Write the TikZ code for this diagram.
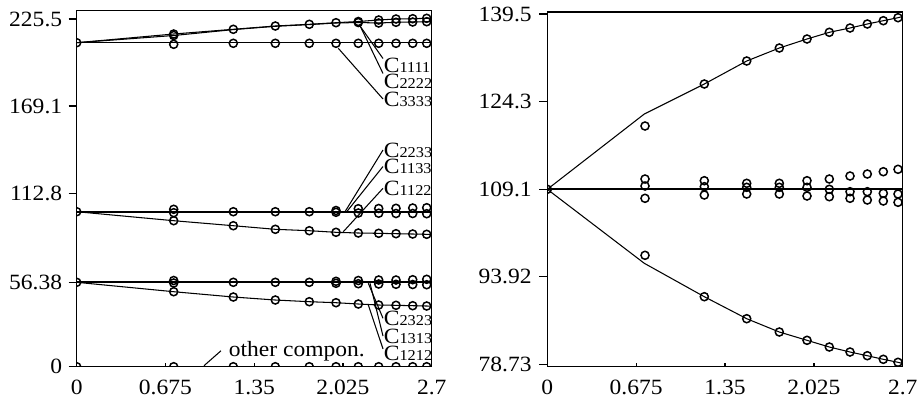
\documentclass[tikz,border=0pt]{standalone}
\usepackage{fontspec}
\setmainfont{Liberation Serif}[FakeStretch=1.08]
\usepackage{tikz}
\tikzset{
  frm/.style={line width=0.75pt, draw=black},
  axes/.style={line width=0.85pt, draw=black},
  tick/.style={line width=0.75pt, draw=black},
  curve/.style={line width=0.6pt, draw=black},
  flat/.style={line width=1.1pt, draw=black},
  lead/.style={line width=0.6pt, draw=black},
  pt/.style={circle, draw=black, line width=0.85pt, inner sep=0pt, minimum size=4.6pt},
  num/.style={font=\fontsize{12.4}{14}\selectfont, inner sep=0pt},
  lab/.style={font=\fontsize{12.4}{14}\selectfont, inner sep=0.3pt, anchor=west}
}
\newcommand{\cname}[1]{C{\fontsize{8.6}{9}\selectfont #1}}

\begin{document}
\begin{tikzpicture}[x=0.02cm, y=-0.02cm]
  \fill[white] (0,0) rectangle (918,400);
  \useasboundingbox (0,0) rectangle (918,400);

  % ---------- left panel ----------
  \draw[frm] (76.7,10.7) rectangle (431.7,366.7);
  \draw[axes] (76.7,10.7) -- (76.7,366.7) -- (431.7,366.7);
  \foreach \v/\y [count=\i] in {225.5/19, 169.1/106, 112.8/193.5, 56.38/282.3, 0/366.7} {
    \draw[tick] (68.7,\y) -- (76.7,\y);
    \node[num, anchor=east] (ly\i) at (62.5,\y) {\v};
  }
  \foreach \v/\x [count=\i] in {0/76.7, 0.675/165.45, 1.35/254.2, 2.025/342.95, 2.7/431.7} {
    \draw[tick] (\x,366.7) -- (\x,362.7);
    \node[num, anchor=north] (lx\i) at (\x,379.5) {\v};
  }

  \begin{scope}
    \clip (76.7,10.7) rectangle (431.7,366.7);
    % top group
    \draw[curve] plot coordinates {(76.7,42.7) (173.7,34) (233.3,29.3) (275.3,26) (309.3,24.3)
      (336,22.7) (358.3,21.5) (378.7,20) (396,19) (412.7,18.7) (426.7,18.3) (431.7,18.2)};
    \draw[curve] plot coordinates {(76.7,42.7) (173.7,35.5) (233.3,29.6) (275.3,26.3) (309.3,24.6)
      (336,23) (358.3,22.5) (378.7,23) (396,22.3) (412.7,22) (426.7,21.7) (431.7,21.6)};
    \draw[curve] (76.7,42.7) -- (431.7,42.7);
    \foreach \x/\y [count=\i] in {76.7/42.7, 173.7/34, 173.7/35.5, 233.3/29.3, 275.3/26, 309.3/24.3,
      336/22.7, 358.3/21.5, 358.3/22.5, 378.7/20, 378.7/23, 396/19, 396/22.3, 412.7/18.7,
      412.7/22, 426.7/18.3, 426.7/21.7}
      \node[pt] (a\i) at (\x,\y) {};
    \foreach \x/\y [count=\i] in {173.7/44.3, 233.3/43.3, 275.3/43.3, 309.3/43.3, 336/43.3,
      358.3/43.3, 378.7/43.3, 396/43.3, 412.7/43.3, 426.7/43.3}
      \node[pt] (b\i) at (\x,\y) {};

    % second group
    \draw[flat] (76.7,211.7) -- (431.7,211.7);
    \draw[curve] plot coordinates {(76.7,211.7) (173.7,220.7) (233.3,225.7) (275.3,229.3) (309.3,230.7)
      (336,232.3) (358.3,233) (378.7,233.3) (396,233.7) (412.7,234) (426.7,234.3) (431.7,234.4)};
    \foreach \x/\y [count=\i] in {76.7/211.7, 173.7/209.3, 173.7/212.7, 233.3/211.7, 275.3/211.7,
      309.3/211.7, 336/210.5, 336/212.3, 358.3/208.7, 358.3/213, 378.7/208.5, 378.7/213.2,
      396/208.3, 396/213.5, 412.7/208, 412.7/213.5, 426.7/207.7, 426.7/213.7}
      \node[pt] (c\i) at (\x,\y) {};
    \foreach \x/\y [count=\i] in {173.7/220.7, 233.3/225.7, 275.3/229.3, 309.3/230.7, 336/232.3,
      358.3/233, 378.7/233.3, 396/233.7, 412.7/234, 426.7/234.3}
      \node[pt] (d\i) at (\x,\y) {};

    % third group
    \draw[flat] (76.7,282.3) -- (431.7,282.3);
    \draw[curve] plot coordinates {(76.7,282.3) (173.7,291.7) (233.3,297) (275.3,300) (309.3,301.7)
      (336,302.7) (358.3,304) (378.7,305) (396,305.3) (412.7,305.7) (426.7,306) (431.7,306.1)};
    \foreach \x/\y [count=\i] in {76.7/282.3, 173.7/280.5, 173.7/283, 233.3/282.3, 275.3/282.3,
      309.3/282.3, 336/281.3, 336/283.3, 358.3/280.5, 358.3/283.7, 378.7/280, 378.7/284,
      396/280, 396/284.3, 412.7/279.7, 412.7/284.5, 426.7/279.3, 426.7/284.7}
      \node[pt] (e\i) at (\x,\y) {};
    \foreach \x/\y [count=\i] in {173.7/291.7, 233.3/297, 275.3/300, 309.3/301.7, 336/302.7,
      358.3/304, 378.7/305, 396/305.3, 412.7/305.7, 426.7/306}
      \node[pt] (f\i) at (\x,\y) {};

    % zero components
    \foreach \x [count=\i] in {76.7, 173.7, 233.3, 275.3, 309.3, 336, 358.3, 378.7, 396, 412.7, 426.7}
      \node[pt] (g\i) at (\x,366.7) {};
  \end{scope}

  % labels and leaders
  \coordinate (p1111) at (359.3,25);
  \coordinate (p2222) at (360,25.7);
  \coordinate (p3333) at (338.3,48.3);
  \coordinate (p2233) at (345,211.7);
  \coordinate (p1133) at (346.7,211.7);
  \coordinate (p1122) at (343.3,231.7);
  \coordinate (p2323) at (368.3,283.3);
  \coordinate (p1313) at (370,283.3);
  \coordinate (p1212) at (368.3,305);
  \coordinate (poth) at (204,365.7);

  \node[lab] (n1111) at (383,65) {\cname{1111}};
  \node[lab] (n2222) at (383,81.7) {\cname{2222}};
  \node[lab] (n3333) at (383,99) {\cname{3333}};
  \node[lab] (n2233) at (383,150) {\cname{2233}};
  \node[lab] (n1133) at (383,166.5) {\cname{1133}};
  \node[lab] (n1122) at (383,188.3) {\cname{1122}};
  \node[lab] (n2323) at (383,318.3) {\cname{2323}};
  \node[lab] (n1313) at (383,336) {\cname{1313}};
  \node[lab] (n1212) at (383,353.3) {\cname{1212}};
  \node[lab, anchor=base west] (noth) at (228,356) {other compon.};

  \draw[lead] (p1111) -- (n1111.165);
  \draw[lead] (p2222) -- (n2222.north west);
  \draw[lead] (p3333) -- (n3333.west);
  \draw[lead] (p2233) -- (n2233.west);
  \draw[lead] (p1133) -- (n1133.west);
  \draw[lead] (p1122) -- (n1122.west);
  \draw[lead] (p2323) -- (n2323.west);
  \draw[lead] (p1313) -- (n1313.west);
  \draw[lead] (p1212) -- (n1212.170);
  \draw[lead] (poth) -- ([xshift=-4pt]noth.west);

  % ---------- right panel ----------
  \draw[frm] (547.3,12) rectangle (902.7,366.7);
  \draw[axes] (547.3,12) -- (547.3,366.7) -- (902.7,366.7);
  \foreach \v/\y [count=\i] in {139.5/14, 124.3/101.7, 109.1/189.3, 93.92/276.7, 78.73/364.3} {
    \draw[tick] (539.3,\y) -- (547.3,\y);
    \node[num, anchor=east] (ry\i) at (532,\y) {\v};
  }
  \foreach \v/\x [count=\i] in {0/547.3, 0.675/636.15, 1.35/725, 2.025/813.85, 2.7/902.7} {
    \draw[tick] (\x,366.7) -- (\x,362.7);
    \node[num, anchor=north] (rx\i) at (\x,379.5) {\v};
  }

  \begin{scope}
    \clip (547.3,12) rectangle (902.7,366.7);
    \draw[flat] (547.3,189.3) -- (902.7,189.3);
    \draw[curve] plot coordinates {(547.3,189.3) (644.3,114) (704.3,84) (746.7,61) (779.3,48) (807,39)
      (829.3,32.3) (850,28) (867.3,24) (883.3,20.7) (898,17.7) (902.7,16.5)};
    \draw[curve] plot coordinates {(547.3,189.3) (644.3,263.3) (704.3,296.7) (746.7,318.7) (779.3,332)
      (807,340.3) (829.3,347) (850,352) (867.3,355.7) (883.3,359.3) (898,362.3) (902.7,363.5)};
    \node[pt] (h0) at (547.3,189.3) {};
    \foreach \x/\y [count=\i] in {645/126, 704.3/84, 746.7/61, 779.3/48, 807/39, 829.3/32.3,
      850/28, 867.3/24, 883.3/20.7, 898/17.7}
      \node[pt] (h\i) at (\x,\y) {};
    \foreach \x/\y [count=\i] in {645/255.3, 704.3/296.7, 746.7/318.7, 779.3/332, 807/340.3,
      829.3/347, 850/352, 867.3/355.7, 883.3/359.3, 898/362.3}
      \node[pt] (k\i) at (\x,\y) {};
    \foreach \x/\ya/\yb/\yc [count=\i] in {645/179/186/198.3, 704.3/180.7/186.7/195,
      746.7/183.3/187.3/194, 779.3/183.3/187.3/194, 807/180.7/187.3/196, 829.3/179/189.3/196.7,
      850/176/191.7/198.3, 867.3/174/191.7/200, 883.3/171.7/193.3/201, 898/169.3/194/202.3} {
      \node[pt] (m\i) at (\x,\ya) {};
      \node[pt] (q\i) at (\x,\yb) {};
      \node[pt] (r\i) at (\x,\yc) {};
    }
  \end{scope}
\end{tikzpicture}
\end{document}
